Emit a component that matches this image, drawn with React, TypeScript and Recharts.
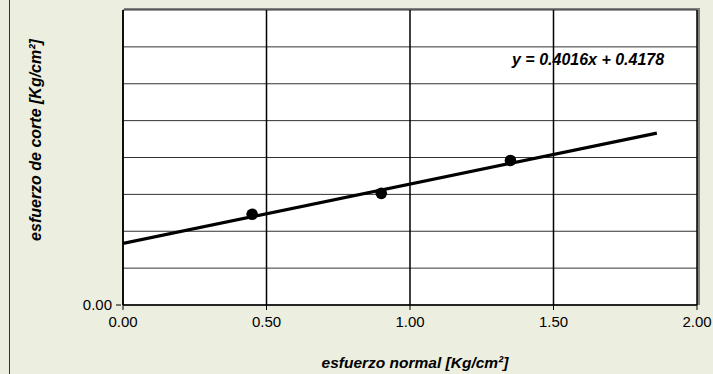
import { ComposedChart, Scatter, Line, XAxis, YAxis, CartesianGrid } from 'recharts';

// ensayo de corte directo: esfuerzo normal vs esfuerzo de corte
const normalStress = [0.45, 0.9, 1.35];
const shearStress = [0.615, 0.757, 0.98];

// extremos de la linea de tendencia
const trendX = [0, 1.86];
const trendY = [0.418, 1.165];

const xTicks = [0, 0.5, 1, 1.5, 2];
const yTicks = [0, 0.25, 0.5, 0.75, 1, 1.25, 1.5, 1.75, 2];

const equation = 'y = 0.4016x + 0.4178';

const points = normalStress.map((x, i) => ({ x, y: shearStress[i] }));
const trend = trendX.map((x, i) => ({ x, y: trendY[i] }));

const font = '"Liberation Sans", Arial, sans-serif';

function YTick(props: any) {
  const { x, y, payload } = props;
  if (payload.value !== 0) return null;
  return (
    <g>
      <line x1={x + 1} x2={x + 6} y1={y} y2={y} stroke="#000" />
      <text x={x - 3} y={y + 5} textAnchor="end" fontSize={15} fill="#000" fontFamily={font}>
        {payload.value.toFixed(2)}
      </text>
    </g>
  );
}

export default function App() {
  return (
    <div style={{ position: 'absolute', left: 0, top: 0, width: 713, height: 374, background: '#ECEEDF', overflow: 'hidden', fontFamily: font }}>
      <div style={{ position: 'absolute', left: 9, top: 0, width: 1, height: 374, background: '#333' }} />
      {/* sombra del area de trazado */}
      <div style={{ position: 'absolute', left: 124, top: 8, width: 576, height: 297, background: '#808080' }} />
      <ComposedChart width={713} height={374} margin={{ top: 10, right: 16, left: 0, bottom: 0 }} style={{ position: 'absolute', left: 0, top: 0 }}>
        <CartesianGrid horizontal vertical={false} fill="#fff" fillOpacity={1} stroke="#333" strokeWidth={1} />
        <CartesianGrid horizontal={false} vertical stroke="#000" strokeWidth={1.5} />
        <XAxis
          type="number"
          dataKey="x"
          domain={[0, 2]}
          ticks={xTicks}
          tickFormatter={(v: number) => v.toFixed(2)}
          tick={{ fill: '#000', fontSize: 15, fontFamily: font, dy: 4 }}
          axisLine={{ stroke: '#000', strokeWidth: 1.5 }}
          tickLine={{ stroke: '#000' }}
          tickSize={5}
          height={69}
          allowDataOverflow
        />
        <YAxis
          type="number"
          dataKey="y"
          domain={[0, 2]}
          ticks={yTicks}
          tick={<YTick />}
          tickLine={false}
          axisLine={{ stroke: '#000', strokeWidth: 1.5 }}
          width={123}
          allowDataOverflow
        />
        <Line data={trend} dataKey="y" type="linear" stroke="#000" strokeWidth={3.2} dot={false} isAnimationActive={false} />
        <Scatter data={points} dataKey="y" fill="#000" shape={(p: any) => <circle cx={p.cx} cy={p.cy} r={5.8} fill="#000" />} isAnimationActive={false} />
      </ComposedChart>
      <div style={{ position: 'absolute', left: 512, top: 51, fontSize: 16, fontWeight: 'bold', fontStyle: 'italic', color: '#000', whiteSpace: 'nowrap' }}>
        {equation}
      </div>
      <div style={{ position: 'absolute', left: 415, top: 363, transform: 'translate(-50%, -50%)', fontSize: 15.5, fontWeight: 'bold', fontStyle: 'italic', color: '#000', whiteSpace: 'nowrap' }}>
        esfuerzo normal [Kg/cm²]
      </div>
      <div style={{ position: 'absolute', left: 36, top: 140, transform: 'translate(-50%, -50%) rotate(-90deg)', fontSize: 16, fontWeight: 'bold', fontStyle: 'italic', color: '#000', whiteSpace: 'nowrap' }}>
        esfuerzo de corte [Kg/cm²]
      </div>
    </div>
  );
}
